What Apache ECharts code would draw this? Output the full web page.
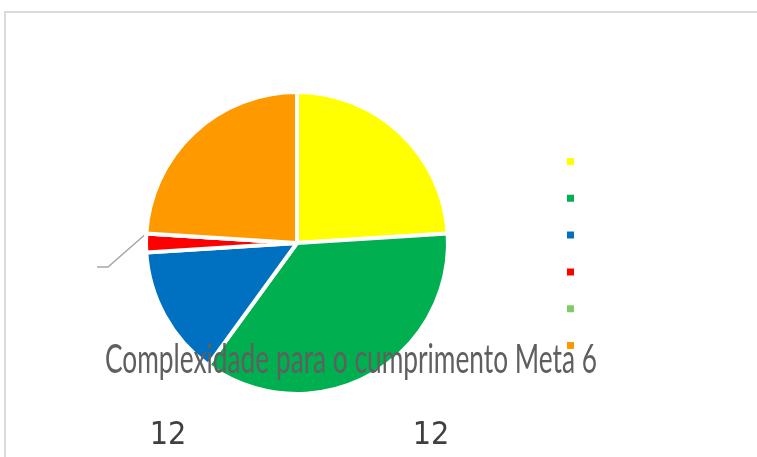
<!DOCTYPE html>
<html><head><meta charset="utf-8">
<script src="https://cdn.jsdelivr.net/npm/echarts@6/dist/echarts.min.js"></script>
<style>html,body{margin:0;padding:0;background:#fff}#c{width:757px;height:457px}</style>
</head><body><div id="c"></div>
<script>
const categories = ['Categoria 1','Categoria 2','Categoria 3','Categoria 4','Categoria 5','Categoria 6'];
const values = [12, 18, 7, 1, 0, 12];
const colors = ['#FFFF00','#00B050','#0070C0','#FF0000','#7ECD66','#FF9900'];
const titleText = 'Complexidade para o cumprimento Meta 6';

const titleFont = '40px "Liberation Sans Narrow", Lato, sans-serif';
const ctx = document.createElement('canvas').getContext('2d');
ctx.font = titleFont;
const titleW = ctx.measureText(titleText).width;
const titleScale = 492 / titleW;

const labelPos = {0: {x: 431, y: 436, align: 'center', verticalAlign: 'middle'},
                  5: {x: 168, y: 436, align: 'center', verticalAlign: 'middle'}};

const chart = echarts.init(document.getElementById('c'));
chart.setOption({
  animation: false,
  backgroundColor: '#fff',
  legend: {
    orient: 'vertical', left: 560, top: 151, z: 10,
    itemWidth: 9, itemHeight: 9, itemGap: 25.8, icon: 'rect',
    formatter: function () { return ''; },
    textStyle: {fontSize: 8, lineHeight: 8},
    data: categories
  },
  graphic: [
    {type: 'rect', z: -1, shape: {x: 5, y: 12, width: 800, height: 500},
     style: {fill: 'none', stroke: '#d9d9d9', lineWidth: 2}},
    {type: 'text', z: 3, x: 105, y: 340, scaleX: titleScale,
     style: {text: titleText, font: titleFont, fill: '#5f5f5f', textAlign: 'left', textVerticalAlign: 'top'}}
  ],
  series: [{
    type: 'pie',
    center: [297, 243], radius: 151,
    startAngle: 90, clockwise: true,
    avoidLabelOverlap: false,
    itemStyle: {borderColor: '#fff', borderWidth: 4},
    label: {show: false},
    labelLine: {show: false},
    labelLayout: function (p) {
      if (p.dataIndex === 4 && p.labelLinePoints) {
        const s = p.labelLinePoints[0];
        return {x: 97, y: 267, align: 'right', verticalAlign: 'middle',
                labelLinePoints: [s, [108, 267], [97, 267]]};
      }
      return labelPos[p.dataIndex] || {};
    },
    data: categories.map(function (n, i) {
      const d = {name: n, value: values[i], itemStyle: {color: colors[i]}};
      if (i === 0 || i === 5) {
        d.label = {show: true, position: 'outside', formatter: '{c}', fontSize: 32,
                   fontFamily: '"Liberation Sans Narrow", "DejaVu Sans Condensed", sans-serif', color: '#404040'};
      } else if (i === 4) {
        d.label = {show: true, position: 'outside', formatter: ' ', fontSize: 12};
        d.labelLine = {show: true, lineStyle: {color: '#a6a6a6', width: 1.5}};
      }
      return d;
    })
  }]
});
</script></body></html>
